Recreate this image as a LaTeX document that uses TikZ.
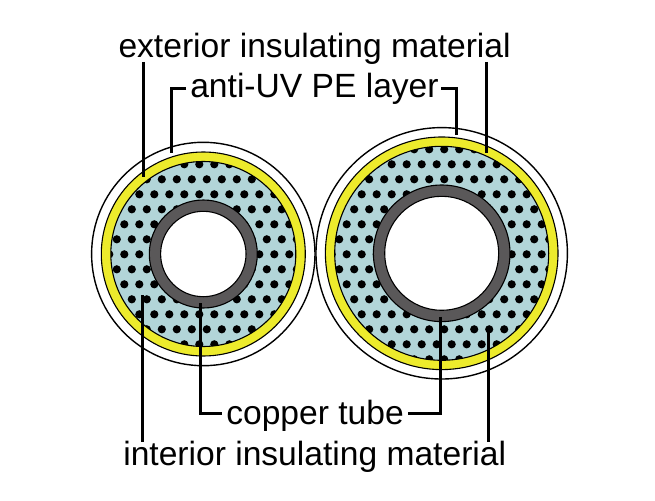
\documentclass[tikz,border=0pt]{standalone}
\usepackage{fontspec}
\setmainfont{Liberation Sans}
\definecolor{jacket}{HTML}{EDEB2C}
\definecolor{foam}{HTML}{B2D5D8}
\definecolor{tube}{HTML}{5A5859}
\tikzset{
  lead/.style={line width=3pt,line cap=butt,line join=miter},
  lbl/.style={anchor=base west,inner sep=0pt,outer sep=0pt,font=\fontsize{33.6pt}{36pt}\selectfont},
  outline/.style={draw=black,line width=1.1pt},
  skin/.style={draw=black,line width=1.4pt}
}
\newcommand{\pipe}[8]{%
  % #1 cx, #2 cy, #3 outer, #4 yellow, #5 foam, #6 tube outer, #7 tube inner, #8 lattice x0
  \draw[skin,fill=white] (#1,#2) circle[radius=#3];
  \draw[outline,fill=jacket] (#1,#2) circle[radius=#4];
  \fill[foam] (#1,#2) circle[radius=#5];
  \begin{scope}
    \clip (#1,#2) circle[radius=#5];
    \foreach \r in {-7,...,7}{
      \foreach \c in {-18,...,18}{
        \fill[black] ({#8+15*\c+7.5*\r},{254.3+15*\r}) circle[radius=4.1];
      }
    }
  \end{scope}
  \draw[outline] (#1,#2) circle[radius=#5];
  \draw[outline,fill=tube] (#1,#2) circle[radius=#6];
  \draw[outline,fill=white] (#1,#2) circle[radius=#7];
}
\begin{document}
\begin{tikzpicture}[x=1pt,y=-1pt]
\useasboundingbox (0,0) rectangle (655,500);
\fill[white] (0,0) rectangle (655,500);
\pipe{203.3}{254}{111.7}{102}{92.5}{54}{42.7}{124.3}
\pipe{441.7}{253.3}{125.7}{116.3}{107}{68.3}{57}{346.7}
\node[lbl] (ext) at (118.5,57.7) {exterior insulating material};
\node[lbl] (uv) at (190.3,98) {anti-UV PE layer};
\node[lbl] (cu) at (226.3,424) {copper tube};
\node[lbl] (int) at (123.3,465) {interior insulating material};
\coordinate (extLtop) at (143.7,62);
\coordinate (extLend) at (143.7,177);
\coordinate (extRtop) at (486,62);
\coordinate (extRend) at (486,153);
\coordinate (uvLa) at (186,89);
\coordinate (uvLb) at (171.7,153);
\coordinate (uvRa) at (441,89);
\coordinate (uvRb) at (456,135);
\coordinate (intLtop) at (142.7,295);
\coordinate (intLend) at (142.7,441.5);
\coordinate (intRtop) at (488.3,326.7);
\coordinate (intRend) at (488.3,441.5);
\coordinate (cuLtop) at (200.7,303);
\coordinate (cuLend) at (221.7,413);
\coordinate (cuRtop) at (440.7,316.7);
\coordinate (cuRend) at (407.7,413);
\draw[lead] (extLtop) -- (extLend);
\draw[lead] (extRtop) -- (extRend);
\draw[lead] (uvLa) -| (uvLb);
\draw[lead] (uvRa) -| (uvRb);
\draw[lead] (intLtop) -- (intLend);
\draw[lead] (intRtop) -- (intRend);
\draw[lead] (cuLtop) |- (cuLend);
\draw[lead] (cuRtop) |- (cuRend);
\end{tikzpicture}
\end{document}
